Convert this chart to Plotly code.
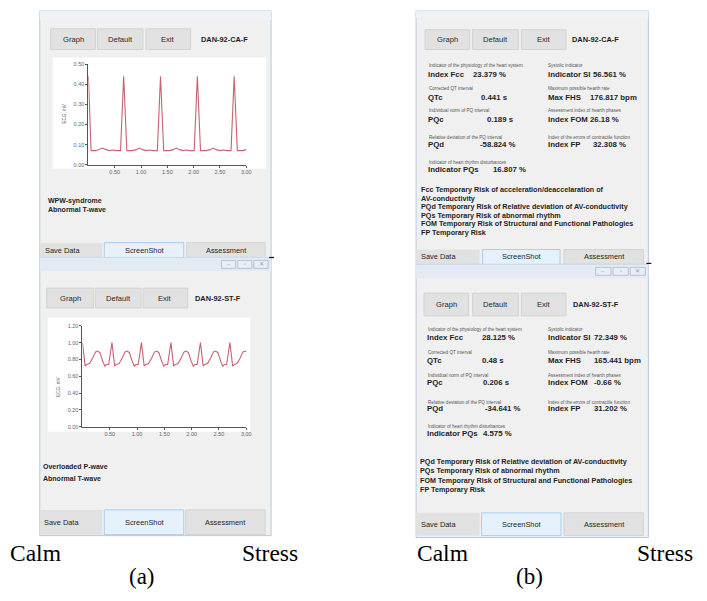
import plotly.graph_objects as go

W, H = 707, 601
OFF = 8  # the page body adds an 8 px margin; compensate so marks land on reference pixels
FW, FH = W - OFF, H - OFF

# ---------------- data ----------------
calm_t = [0.00, 0.05, 0.14, 0.21, 0.27, 0.33, 0.40, 0.47, 0.53, 0.61,
          0.67, 0.73, 0.84, 0.91, 0.97, 1.03, 1.10, 1.17, 1.23, 1.31,
          1.37, 1.43, 1.54, 1.61, 1.67, 1.73, 1.80, 1.87, 1.93, 2.01,
          2.07, 2.13, 2.24, 2.31, 2.37, 2.43, 2.50, 2.57, 2.63, 2.71,
          2.77, 2.83, 2.94, 3.00]
calm_v = [0.44, 0.07, 0.07, 0.075, 0.083, 0.075, 0.07, 0.073, 0.07, 0.07,
          0.44, 0.07, 0.07, 0.075, 0.083, 0.075, 0.07, 0.073, 0.07, 0.07,
          0.44, 0.07, 0.07, 0.075, 0.083, 0.075, 0.07, 0.073, 0.07, 0.07,
          0.44, 0.07, 0.07, 0.075, 0.083, 0.075, 0.07, 0.073, 0.07, 0.07,
          0.44, 0.07, 0.07, 0.075]

stress_t = [0.00, 0.05, 0.08, 0.13, 0.19, 0.24, 0.28, 0.32, 0.37, 0.41, 0.44, 0.48,
            0.54, 0.59, 0.62, 0.67, 0.73, 0.78, 0.82, 0.86, 0.91, 0.95, 0.98, 1.02,
            1.08, 1.13, 1.16, 1.21, 1.27, 1.32, 1.36, 1.40, 1.45, 1.49, 1.52, 1.56,
            1.62, 1.67, 1.70, 1.75, 1.81, 1.86, 1.90, 1.94, 1.99, 2.03, 2.06, 2.10,
            2.16, 2.21, 2.24, 2.29, 2.35, 2.40, 2.44, 2.48, 2.53, 2.57, 2.60, 2.64,
            2.70, 2.75, 2.78, 2.83, 2.89, 2.94, 2.98, 3.00]
stress_v = [1.00, 0.72, 0.74, 0.75, 0.82, 0.89, 0.90, 0.88, 0.78, 0.72, 0.74, 0.74,
            1.00, 0.72, 0.74, 0.75, 0.82, 0.89, 0.90, 0.88, 0.78, 0.72, 0.74, 0.74,
            1.00, 0.72, 0.74, 0.75, 0.82, 0.89, 0.90, 0.88, 0.78, 0.72, 0.74, 0.74,
            1.00, 0.72, 0.74, 0.75, 0.82, 0.89, 0.90, 0.88, 0.78, 0.72, 0.74, 0.74,
            1.00, 0.72, 0.74, 0.75, 0.82, 0.89, 0.90, 0.88, 0.78, 0.72, 0.74, 0.74,
            1.00, 0.72, 0.74, 0.75, 0.82, 0.89, 0.90, 0.89]

x_ticks = [0.5, 1.0, 1.5, 2.0, 2.5, 3.0]
calm_y_ticks = [0.0, 0.1, 0.2, 0.3, 0.4, 0.5]
stress_y_ticks = [0.0, 0.2, 0.4, 0.6, 0.8, 1.0, 1.2]

record_calm = "DAN-92-CA-F"
record_stress = "DAN-92-ST-F"
diagnosis_calm = ["WPW-syndrome", "Abnormal T-wave"]
diagnosis_stress = ["Overloaded P-wave", "Abnormal T-wave"]
top_buttons = ["Graph", "Default", "Exit"]
bottom_buttons = ["Save Data", "ScreenShot", "Assessment"]

captions_left = ["Indicator of the physiology of the heart system",
                 "Corrected QT interval",
                 "Individual norm of PQ interval",
                 "Relative deviation of the PQ interval",
                 "Indicator of heart rhythm disturbances"]
names_left = ["Index Fcc", "QTc", "PQc", "PQd", "Indicator PQs"]
calm_values_left = ["23.379 %", "0.441 s", "0.189 s", "-58.824 %", "16.807 %"]
stress_values_left = ["28.125 %", "0.48 s", "0.206 s", "-34.641 %", "4.575 %"]

captions_right = ["Systolic indicator",
                  "Maximum possible hearth rate",
                  "Assessment index of hearth phases",
                  "Index of the errors of contractile function"]
names_right = ["Indicator SI", "Max FHS", "Index FOM", "Index FP"]
calm_values_right = ["56.561 %", "176.817 bpm", "26.18 %", "32.308 %"]
stress_values_right = ["72.349 %", "165.441 bpm", "-0.66 %", "31.202 %"]

risk_calm = ["Fcc Temporary Risk of acceleration/deaccelaration of",
             "AV-conductivity",
             "PQd Temporary Risk of Relative deviation of AV-conductivity",
             "PQs Temporary Risk of abnormal rhythm",
             "FOM Temporary Risk of Structural and Functional Pathologies",
             "FP Temporary Risk"]
risk_stress = ["PQd Temporary Risk of Relative deviation of AV-conductivity",
               "PQs Temporary Risk of abnormal rhythm",
               "FOM Temporary Risk of Structural and Functional Pathologies",
               "FP Temporary Risk"]

state_labels = ["Calm", "Stress"]
panel_labels = ["(a)", "(b)"]

# ---------------- helpers ----------------
SANS = "Liberation Sans, Arial, sans-serif"
SERIF = "Liberation Serif, Times New Roman, serif"
shapes = []
ann = []


def X(x):
    return (x - OFF) / FW


def Y(y):
    return 1 - (y - OFF) / FH


def rect(x0, y0, x1, y1, fill, line=None, lw=1):
    shapes.append(dict(type="rect", xref="paper", yref="paper", layer="below",
                       x0=X(x0), x1=X(x1), y0=Y(y1), y1=Y(y0), fillcolor=fill,
                       line=dict(color=line if line else fill, width=lw if line else 0)))


def hline(x0, x1, y, color, lw=1):
    shapes.append(dict(type="line", xref="paper", yref="paper", layer="below",
                       x0=X(x0), x1=X(x1), y0=Y(y), y1=Y(y), line=dict(color=color, width=lw)))


def txt(x, y, s, size=8, color="#1e1e1e", bold=False, xanchor="left",
        family=SANS, angle=0):
    ann.append(dict(x=X(x), y=Y(y), xref="paper", yref="paper", text=s,
                    showarrow=False, xanchor=xanchor, yanchor="middle",
                    borderpad=0, borderwidth=0, textangle=angle,
                    font=dict(size=size, color=color, family=family,
                              weight="bold" if bold else "normal")))


BG = "#f0f0f0"
BTN = "#e1e1e1"
BTN_LINE = "#d2d2d2"
BORDER = "#b7c9df"
TITLE = "#e3eaf3"


def top_buttons_row(xs, y0, y1, label, label_x):
    for (a, b), name in zip(xs, top_buttons):
        rect(a, y0, b, y1, BTN, BTN_LINE)
        txt((a + b) / 2, (y0 + y1) / 2, name, 7.6, "#262626", xanchor="center")
    txt(label_x, (y0 + y1) / 2, label, 7.4, "#1e1e1e", True, xanchor="center")


def bottom_bar(x0, y0, y1, xs, save_x):
    (a0, b0), (a1, b1), (a2, b2) = xs
    rect(x0, y0, b0, y1, BTN, None)
    rect(a1, y0, b1, y1, "#e5f1fb", "#a9cdf0")
    rect(a2, y0, b2, y1, BTN, BTN_LINE)
    txt(save_x, (y0 + y1) / 2, bottom_buttons[0], 7.4, "#1e1e1e")
    txt((a1 + b1) / 2, (y0 + y1) / 2, bottom_buttons[1], 7.4, "#1e1e1e", xanchor="center")
    txt((a2 + b2) / 2, (y0 + y1) / 2, bottom_buttons[2], 7.4, "#1e1e1e", xanchor="center")


def title_bar(x0, x1, y0, y1, cx0):
    rect(x0, y0, x1, y1, TITLE)
    w = (x1 - 2 - cx0) / 3
    glyphs = ["–", "▫", "✕"]
    for i in range(3):
        a = cx0 + i * w
        rect(a + 1, y0 + 3, a + w - 1, y1 - 3, "#e9eef5", "#b4c2d3")
        txt(a + w / 2, (y0 + y1) / 2, glyphs[i], 5.5, "#8d9aab", xanchor="center")


def metrics(y_cap, y_lab, lx, lvals_x, values_l, rx, rvals_x, values_r):
    for i in range(5):
        txt(lx + 1, y_cap[i], captions_left[i], 4.6, "#555555")
        txt(lx, y_lab[i], names_left[i], 7.8, "#1e1e1e", True)
        txt(lvals_x[i], y_lab[i], values_l[i], 7.8, "#1e1e1e", True)
    for i in range(4):
        txt(rx, y_cap[i], captions_right[i], 4.6, "#555555")
        txt(rx, y_lab[i], names_right[i], 7.8, "#1e1e1e", True)
        txt(rvals_x[i], y_lab[i], values_r[i], 7.8, "#1e1e1e", True)


# ---------------- left panel (a) ----------------
rect(40, 8, 273, 258, BG, BORDER)
rect(40, 8, 273, 17, "#eef2f7")
top_buttons_row([(51, 96), (98, 144), (147, 192)], 26, 47, record_calm, 226)
rect(53, 55, 268, 167, "#ffffff")
txt(48, 200, diagnosis_calm[0], 7.0, "#1e1e1e", True)
txt(48, 209, diagnosis_calm[1], 7.0, "#1e1e1e", True)
bottom_bar(40, 242, 257, [(40, 103), (105, 185), (188, 267)], 45)

rect(40, 257, 273, 538, BG, BORDER)
title_bar(40, 273, 257, 271, 222)
top_buttons_row([(47, 94), (96, 142), (144, 189)], 288, 308, record_stress, 220)
rect(48, 318, 252, 433, "#ffffff")
txt(43, 468, diagnosis_stress[0], 7.0, "#1e1e1e", True)
txt(43, 480, diagnosis_stress[1], 7.0, "#1e1e1e", True)
bottom_bar(40, 512, 537, [(40, 103), (105, 185), (187, 267)], 44)
hline(271, 276, 257, "#111111", 1.2)

# ---------------- right panel (b) ----------------
rect(419, 8, 653, 264, BG, BORDER)
rect(419, 8, 653, 15, "#eef2f7")
top_buttons_row([(428, 473), (476, 522), (525, 570)], 27, 47, record_calm, 600)
metrics([63, 86, 109, 136, 161], [72, 95, 118, 143, 168], 431,
        [476, 484, 490, 483, 496], calm_values_left,
        552, [597, 594, 594, 597], calm_values_right)
for i, line in enumerate(risk_calm):
    txt(424, [188, 197, 206, 214.5, 223, 232][i], line, 7.2, "#1e1e1e", True)
bottom_bar(419, 249, 264, [(419, 483), (486, 564), (568, 648)], 424)

rect(419, 264, 653, 540, BG, BORDER)
title_bar(419, 653, 264, 278, 599)
top_buttons_row([(427, 472), (476, 522), (525, 570)], 293, 316, record_stress, 600)
metrics([330, 353, 376, 403, 428], [338, 361, 383, 410, 435], 430,
        [485, 485, 486, 488, 486], stress_values_left,
        552, [598, 598, 598, 598], stress_values_right)
for i, line in enumerate(risk_stress):
    txt(423, [463, 472.5, 482, 491][i], line, 7.2, "#1e1e1e", True)
bottom_bar(419, 515, 538, [(419, 483), (485, 565), (568, 648)], 424)
hline(651, 656, 263, "#111111", 1.2)

# ---------------- captions ----------------
txt(10, 556, state_labels[0], 23.5, "#000000", family=SERIF)
txt(272, 556, state_labels[1], 23.5, "#000000", family=SERIF, xanchor="center")
txt(143, 579, panel_labels[0], 23, "#000000", family=SERIF, xanchor="center")
txt(420, 556, state_labels[0], 23.5, "#000000", family=SERIF)
txt(698, 556, state_labels[1], 23.5, "#000000", family=SERIF, xanchor="right")
txt(533, 579, panel_labels[1], 23, "#000000", family=SERIF, xanchor="center")

txt(65, 112, "ECG, mV", 4.6, "#666666", xanchor="center", angle=-90)
txt(59, 388, "ECG, mV", 4.6, "#666666", xanchor="center", angle=-90)

# ---------------- figure ----------------
fig = go.Figure()
line_style = dict(color="#c86270", width=1.1)
fig.add_trace(go.Scatter(x=calm_t, y=calm_v, mode="lines", line=line_style,
                         xaxis="x", yaxis="y", showlegend=False, hoverinfo="skip"))
fig.add_trace(go.Scatter(x=stress_t, y=stress_v, mode="lines", line=line_style,
                         xaxis="x2", yaxis="y2", showlegend=False, hoverinfo="skip"))

axis_common = dict(showgrid=False, zeroline=False, showline=True, linecolor="#555555",
                   linewidth=1, ticks="outside", ticklen=2, tickcolor="#555555",
                   tickfont=dict(size=5.5, color="#666666", family=SANS), fixedrange=True)

fig.update_layout(
    width=FW, height=FH, margin=dict(l=0, r=0, t=0, b=0),
    paper_bgcolor="#ffffff", plot_bgcolor="rgba(0,0,0,0)",
    shapes=shapes, annotations=ann, showlegend=False,
    xaxis=dict(domain=[X(89), X(248)], range=[0, 3], anchor="y",
               tickvals=x_ticks, ticktext=[f"{v:.2f}" for v in x_ticks], **axis_common),
    yaxis=dict(domain=[Y(163.3), Y(61.7)], range=[0, 0.5], anchor="x",
               tickvals=calm_y_ticks, ticktext=[f"{v:.2f}" for v in calm_y_ticks], **axis_common),
    xaxis2=dict(domain=[X(83), X(248)], range=[0, 3], anchor="y2",
                tickvals=x_ticks, ticktext=[f"{v:.2f}" for v in x_ticks], **axis_common),
    yaxis2=dict(domain=[Y(428), Y(326)], range=[0, 1.2], anchor="x2",
                tickvals=stress_y_ticks, ticktext=[f"{v:.2f}" for v in stress_y_ticks], **axis_common),
)

fig.write_html("out.html")
